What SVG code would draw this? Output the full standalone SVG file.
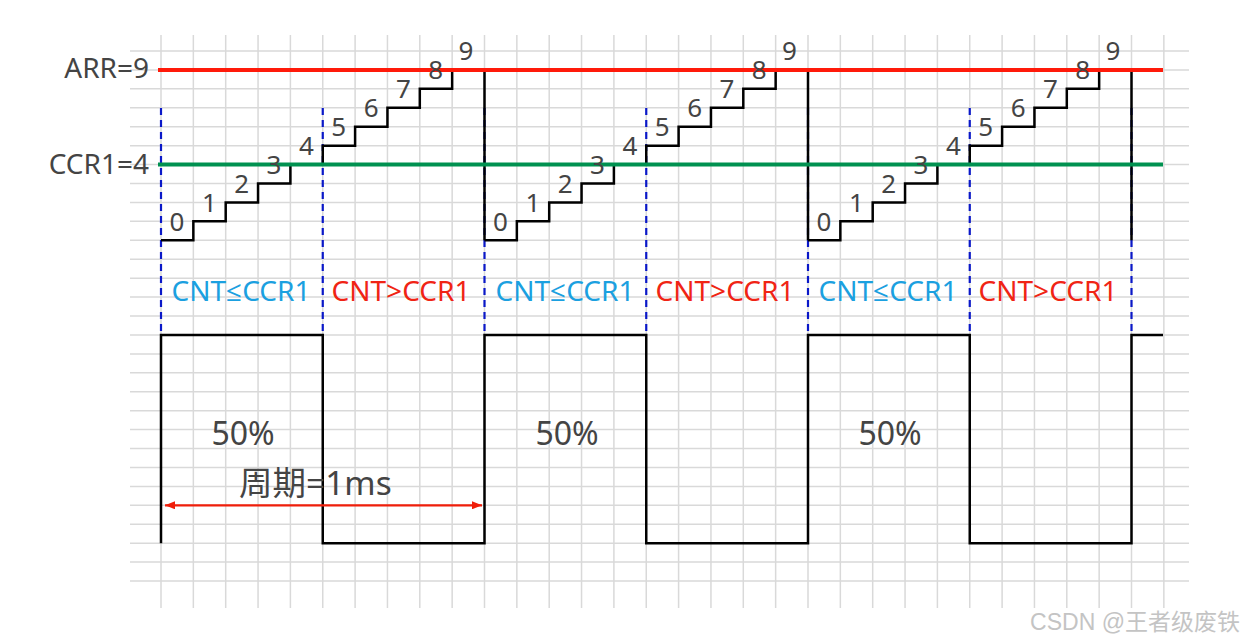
<svg xmlns="http://www.w3.org/2000/svg" width="1245" height="640" viewBox="0 0 1245 640">
<defs>
<style>
.grid line{stroke:#d9d9d9;stroke-width:1.5}
.txt{font-family:"Noto Sans","Open Sans","Noto Sans CJK SC",sans-serif;fill:#444}
.num{font-size:26px;text-anchor:middle}
.lbl{font-size:28px;text-anchor:end}
.cmp{font-size:28px;text-anchor:middle}
.le{fill:#1ba0e0}
.gt{fill:#f02414}
.pct{font-size:32px;text-anchor:middle}
.stair{fill:none;stroke:#000;stroke-width:2.5}
.dash{stroke:#0a18c8;stroke-width:2.2;stroke-dasharray:7 5}
</style>
<path id="stair" class="stair" d="M0,240.3 h32.35 v-18.93 h32.35 v-18.93 h32.35 v-18.93 h32.35 v-18.93 h32.35 v-18.93 h32.35 v-18.93 h32.35 v-18.93 h32.35 v-18.93 h32.35 v-18.93 h32.35 V240.3"/>
<marker id="ah" viewBox="0 0 10 8" refX="10" refY="4" markerWidth="10" markerHeight="8" markerUnits="userSpaceOnUse" orient="auto-start-reverse">
<path d="M0,0 L10,4 L0,8 Z" fill="#f01e0a"/>
</marker>
</defs>
<rect width="1245" height="640" fill="#fff"/>
<g id="grid" class="grid">
<line x1="161" y1="35" x2="161" y2="608"/><line x1="193.35" y1="35" x2="193.35" y2="608"/><line x1="225.7" y1="35" x2="225.7" y2="608"/><line x1="258.05" y1="35" x2="258.05" y2="608"/><line x1="290.4" y1="35" x2="290.4" y2="608"/><line x1="322.75" y1="35" x2="322.75" y2="608"/><line x1="355.1" y1="35" x2="355.1" y2="608"/><line x1="387.45" y1="35" x2="387.45" y2="608"/><line x1="419.8" y1="35" x2="419.8" y2="608"/><line x1="452.15" y1="35" x2="452.15" y2="608"/><line x1="484.5" y1="35" x2="484.5" y2="608"/><line x1="516.85" y1="35" x2="516.85" y2="608"/><line x1="549.2" y1="35" x2="549.2" y2="608"/><line x1="581.55" y1="35" x2="581.55" y2="608"/><line x1="613.9" y1="35" x2="613.9" y2="608"/><line x1="646.25" y1="35" x2="646.25" y2="608"/><line x1="678.6" y1="35" x2="678.6" y2="608"/><line x1="710.95" y1="35" x2="710.95" y2="608"/><line x1="743.3" y1="35" x2="743.3" y2="608"/><line x1="775.65" y1="35" x2="775.65" y2="608"/><line x1="808" y1="35" x2="808" y2="608"/><line x1="840.35" y1="35" x2="840.35" y2="608"/><line x1="872.7" y1="35" x2="872.7" y2="608"/><line x1="905.05" y1="35" x2="905.05" y2="608"/><line x1="937.4" y1="35" x2="937.4" y2="608"/><line x1="969.75" y1="35" x2="969.75" y2="608"/><line x1="1002.1" y1="35" x2="1002.1" y2="608"/><line x1="1034.45" y1="35" x2="1034.45" y2="608"/><line x1="1066.8" y1="35" x2="1066.8" y2="608"/><line x1="1099.15" y1="35" x2="1099.15" y2="608"/><line x1="1131.5" y1="35" x2="1131.5" y2="608"/><line x1="1163.85" y1="35" x2="1163.85" y2="608"/>
<line x1="130" y1="51" x2="1189" y2="51"/><line x1="130" y1="69.93" x2="1189" y2="69.93"/><line x1="130" y1="88.86" x2="1189" y2="88.86"/><line x1="130" y1="107.79" x2="1189" y2="107.79"/><line x1="130" y1="126.72" x2="1189" y2="126.72"/><line x1="130" y1="145.65" x2="1189" y2="145.65"/><line x1="130" y1="164.58" x2="1189" y2="164.58"/><line x1="130" y1="183.51" x2="1189" y2="183.51"/><line x1="130" y1="202.44" x2="1189" y2="202.44"/><line x1="130" y1="221.37" x2="1189" y2="221.37"/><line x1="130" y1="240.3" x2="1189" y2="240.3"/><line x1="130" y1="259.23" x2="1189" y2="259.23"/><line x1="130" y1="278.16" x2="1189" y2="278.16"/><line x1="130" y1="297.09" x2="1189" y2="297.09"/><line x1="130" y1="316.02" x2="1189" y2="316.02"/><line x1="130" y1="334.95" x2="1189" y2="334.95"/><line x1="130" y1="353.88" x2="1189" y2="353.88"/><line x1="130" y1="372.81" x2="1189" y2="372.81"/><line x1="130" y1="391.74" x2="1189" y2="391.74"/><line x1="130" y1="410.67" x2="1189" y2="410.67"/><line x1="130" y1="429.6" x2="1189" y2="429.6"/><line x1="130" y1="448.53" x2="1189" y2="448.53"/><line x1="130" y1="467.46" x2="1189" y2="467.46"/><line x1="130" y1="486.39" x2="1189" y2="486.39"/><line x1="130" y1="505.32" x2="1189" y2="505.32"/><line x1="130" y1="524.25" x2="1189" y2="524.25"/><line x1="130" y1="543.18" x2="1189" y2="543.18"/><line x1="130" y1="562.11" x2="1189" y2="562.11"/><line x1="130" y1="581.04" x2="1189" y2="581.04"/>
</g>
<g id="dashes">
<line class="dash" x1="161" y1="108" x2="161" y2="333"/><line class="dash" x1="322.75" y1="108" x2="322.75" y2="333"/><line class="dash" x1="484.5" y1="108" x2="484.5" y2="333"/><line class="dash" x1="646.25" y1="108" x2="646.25" y2="333"/><line class="dash" x1="808" y1="108" x2="808" y2="333"/><line class="dash" x1="969.75" y1="108" x2="969.75" y2="333"/><line class="dash" x1="1131.5" y1="108" x2="1131.5" y2="333"/>
</g>
<g id="counter">
<use href="#stair" x="161"/><use href="#stair" x="484.5"/><use href="#stair" x="808"/>
</g>
<g id="arr-line"><line x1="158" y1="69.93" x2="1163" y2="69.93" stroke="#ff1a0a" stroke-width="4"/></g>
<g id="ccr-line"><line x1="158" y1="164.58" x2="1163" y2="164.58" stroke="#009150" stroke-width="4"/></g>
<g id="labels" class="txt">
<text class="lbl" x="149" y="78">ARR=9</text>
<text class="lbl" x="149" y="173.5">CCR1=4</text>
</g>
<g id="counts" class="txt num">
<text x="177" y="230.8">0</text><text x="209.35" y="211.9">1</text><text x="241.7" y="192.9">2</text><text x="274.05" y="174">3</text><text x="306.4" y="155.1">4</text><text x="338.75" y="136.2">5</text><text x="371.1" y="117.2">6</text><text x="403.45" y="98.3">7</text><text x="435.8" y="79.4">8</text><text x="466" y="60.4">9</text>
<text x="500.5" y="230.8">0</text><text x="532.85" y="211.9">1</text><text x="565.2" y="192.9">2</text><text x="597.55" y="174">3</text><text x="629.9" y="155.1">4</text><text x="662.25" y="136.2">5</text><text x="694.6" y="117.2">6</text><text x="726.95" y="98.3">7</text><text x="759.3" y="79.4">8</text><text x="789.5" y="60.4">9</text>
<text x="824" y="230.8">0</text><text x="856.35" y="211.9">1</text><text x="888.7" y="192.9">2</text><text x="921.05" y="174">3</text><text x="953.4" y="155.1">4</text><text x="985.75" y="136.2">5</text><text x="1018.1" y="117.2">6</text><text x="1050.45" y="98.3">7</text><text x="1082.8" y="79.4">8</text><text x="1113" y="60.4">9</text>
</g>
<g id="compare" class="txt cmp">
<text class="le" x="241" y="301">CNT≤CCR1</text><text class="gt" x="401" y="301">CNT&gt;CCR1</text>
<text class="le" x="565" y="301">CNT≤CCR1</text><text class="gt" x="725" y="301">CNT&gt;CCR1</text>
<text class="le" x="888" y="301">CNT≤CCR1</text><text class="gt" x="1048" y="301">CNT&gt;CCR1</text>
</g>
<g id="pwm">
<path d="M161,543.18 V334.95 H322.75 V543.18 H484.5 V334.95 H646.25 V543.18 H808 V334.95 H969.75 V543.18 H1131.5 V334.95 H1163" fill="none" stroke="#000" stroke-width="2.5"/>
</g>
<g id="duty" class="txt pct">
<text x="243" y="445">50%</text><text x="567" y="445">50%</text><text x="890" y="445">50%</text>
</g>
<g id="period">
<line x1="165" y1="505.3" x2="482" y2="505.3" stroke="#f01e0a" stroke-width="2.2" marker-start="url(#ah)" marker-end="url(#ah)"/>
<text class="txt" x="239" y="495" font-size="33.5">周期=1ms</text>
</g>
<text x="1240" y="630" font-family="'Liberation Sans','Noto Sans CJK SC',sans-serif" font-size="23" fill="#c4c4c4" text-anchor="end">CSDN @王者级废铁</text>
</svg>
